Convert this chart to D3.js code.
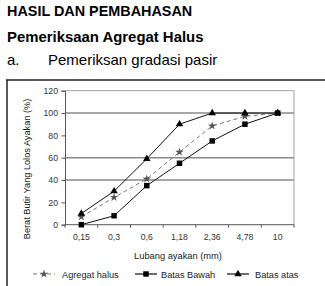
<!DOCTYPE html>
<html>
<head>
<meta charset="utf-8">
<script src="https://cdn.jsdelivr.net/npm/d3@7"></script>
<style>
  body { margin: 0; background: #fff; }
  svg { display: block; font-family: "Liberation Sans", Arial, sans-serif; }
</style>
</head>
<body>
<div id="chart"></div>
<script>
const sizes = ["0,15", "0,3", "0,6", "1,18", "2,36", "4,78", "10"];
const agregatHalus = [7, 24.5, 41, 65, 88.5, 97, 100];
const batasBawah = [0, 8, 35, 55, 75, 90, 100];
const batasAtas = [10, 30, 59, 90, 100, 100, 100];
const yTicks = [0, 20, 40, 60, 80, 100, 120];
const gridValues = [40, 60, 100];

const width = 325, height = 286;
const svg = d3.select("#chart").append("svg")
  .attr("width", width).attr("height", height);

// heading text
svg.append("text").attr("x", 7).attr("y", 15.5)
  .style("font-size", "14.4px").style("font-weight", "bold").text("HASIL DAN PEMBAHASAN");
svg.append("text").attr("x", 7).attr("y", 42)
  .style("font-size", "14.9px").style("font-weight", "bold").text("Pemeriksaan Agregat Halus");
svg.append("text").attr("x", 7).attr("y", 65)
  .style("font-size", "15px").text("a.");
svg.append("text").attr("x", 48).attr("y", 65)
  .style("font-size", "15px").text("Pemeriksan gradasi pasir");

// chart frame (top + left only)
svg.append("line").attr("x1", 6).attr("x2", 325).attr("y1", 80).attr("y2", 80)
  .attr("stroke", "#222").attr("stroke-width", 1.5);
svg.append("line").attr("x1", 7).attr("x2", 7).attr("y1", 80).attr("y2", 286)
  .attr("stroke", "#222").attr("stroke-width", 1.5);

const x = d3.scaleBand().domain(sizes).range([65, 294]);
const y = d3.scaleLinear().domain([0, 120]).range([224.7, 90.7]);

// grid lines
svg.selectAll(".grid").data(gridValues).enter().append("line")
  .attr("x1", 65).attr("x2", 294)
  .attr("y1", d => y(d)).attr("y2", d => y(d))
  .attr("stroke", "#8a8a8a").attr("stroke-width", 1.6);

// plot border top/right
svg.append("path")
  .attr("d", `M65,${y(120)}H294V${y(0)}`)
  .attr("fill", "none").attr("stroke", "#a0a0a0").attr("stroke-width", 1);

// y axis
const yAxis = svg.append("g").attr("transform", "translate(65,0)")
  .call(d3.axisLeft(y).tickValues(yTicks).tickSize(3.5).tickPadding(3.5));
yAxis.select(".domain").attr("stroke", "#555");
yAxis.selectAll(".tick line").attr("stroke", "#555");
yAxis.selectAll("text").style("font-size", "8.7px").attr("fill", "#333")
  .style("font-family", "Liberation Sans, Arial, sans-serif");

// x axis with ticks at category boundaries
svg.append("line").attr("x1", 65).attr("x2", 294).attr("y1", y(0)).attr("y2", y(0))
  .attr("stroke", "#555");
const bounds = sizes.map(s => x(s)).concat([x(sizes[sizes.length - 1]) + x.bandwidth()]);
svg.selectAll(".xtick").data(bounds).enter().append("line")
  .attr("x1", d => d).attr("x2", d => d)
  .attr("y1", y(0)).attr("y2", y(0) + 3)
  .attr("stroke", "#555");
svg.selectAll(".xlabel").data(sizes).enter().append("text")
  .attr("x", d => x(d) + x.bandwidth() / 2)
  .attr("y", 240)
  .attr("text-anchor", "middle")
  .style("font-size", "8.7px").attr("fill", "#333")
  .text(d => d);

// axis titles
svg.append("text").attr("x", 178).attr("y", 259).attr("text-anchor", "middle")
  .style("font-size", "9.3px").attr("fill", "#222").text("Lubang ayakan (mm)");
svg.append("text")
  .attr("transform", "translate(30,169) rotate(-90)")
  .attr("text-anchor", "middle")
  .style("font-size", "9.2px").attr("fill", "#222")
  .text("Berat Butir Yang Lolos Ayakan (%)");

const cx = (d, i) => x(sizes[i]) + x.bandwidth() / 2;
const line = d3.line().x(cx).y(d => y(d));

const series = [
  { name: "Agregat halus", values: agregatHalus, color: "#777", dash: "4,3", symbol: d3.symbolStar, size: 22 },
  { name: "Batas Bawah", values: batasBawah, color: "#111", dash: null, symbol: d3.symbolSquare, size: 30 },
  { name: "Batas atas", values: batasAtas, color: "#111", dash: null, symbol: d3.symbolTriangle, size: 24 }
];

series.forEach(s => {
  svg.append("path").datum(s.values)
    .attr("d", line)
    .attr("fill", "none").attr("stroke", s.color).attr("stroke-width", 1)
    .attr("stroke-dasharray", s.dash);
  svg.selectAll(null).data(s.values).enter().append("path")
    .attr("transform", (d, i) => `translate(${cx(d, i)},${y(d)})`)
    .attr("d", d3.symbol().type(s.symbol).size(s.size))
    .attr("fill", s.symbol === d3.symbolStar ? "#555" : "#000");
});

// legend
const legendX = [33, 135, 227];
const legendTextX = [62, 161, 255];
series.forEach((s, i) => {
  const g = svg.append("g");
  g.append("line").attr("x1", legendX[i]).attr("x2", legendX[i] + 22)
    .attr("y1", 274).attr("y2", 274)
    .attr("stroke", s.color).attr("stroke-width", 1.2)
    .attr("stroke-dasharray", s.dash);
  g.append("path").attr("transform", `translate(${legendX[i] + 11},274)`)
    .attr("d", d3.symbol().type(s.symbol).size(s.size))
    .attr("fill", s.symbol === d3.symbolStar ? "#555" : "#000");
  g.append("text").attr("x", legendTextX[i]).attr("y", 277.5)
    .style("font-size", "9.2px").attr("fill", "#222").text(s.name);
});
</script>
</body>
</html>
